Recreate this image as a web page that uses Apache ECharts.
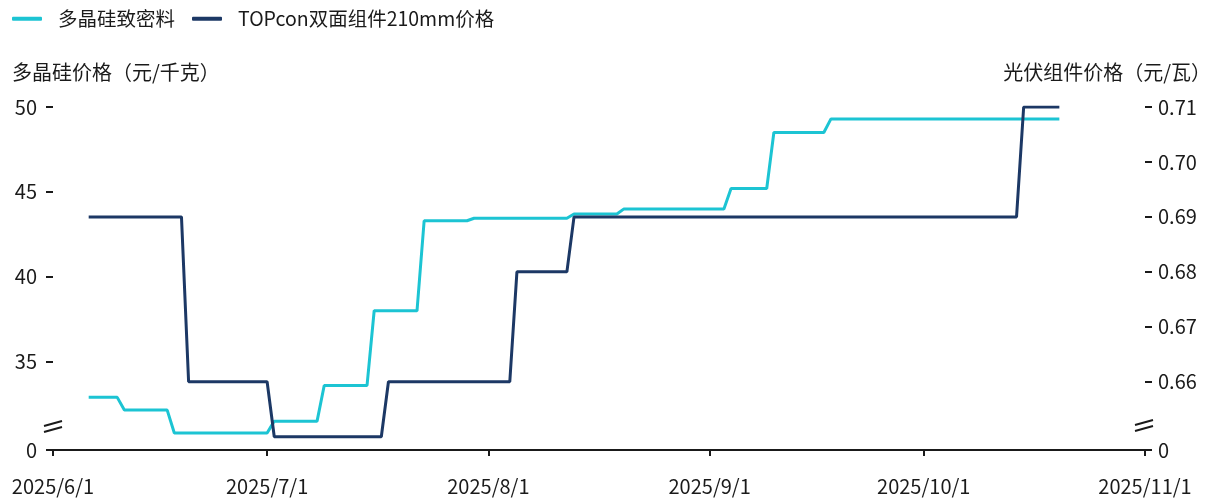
<!DOCTYPE html>
<html>
<head>
<meta charset="utf-8">
<script src="https://cdn.jsdelivr.net/npm/echarts@6/dist/echarts.min.js"></script>
<style>
  html, body { margin: 0; padding: 0; background: #fff; }
  #chart { width: 1211px; height: 500px; }
</style>
</head>
<body>
<div id="chart"></div>
<script>
// ---- data ----
const seriesNames = ['多晶硅致密料', 'TOPcon双面组件210mm价格'];
const polyDates = ['2025-06-06','2025-06-10','2025-06-11','2025-06-17','2025-06-18','2025-07-01','2025-07-02','2025-07-08','2025-07-09','2025-07-15','2025-07-16','2025-07-22','2025-07-23','2025-07-29','2025-07-30','2025-08-12','2025-08-13','2025-08-19','2025-08-20','2025-09-03','2025-09-04','2025-09-09','2025-09-10','2025-09-17','2025-09-18','2025-10-20'];
const polyValues = [32.9,32.9,32.15,32.15,30.8,30.8,31.5,31.5,33.6,33.6,38.0,38.0,43.3,43.3,43.45,43.45,43.7,43.7,44.0,44.0,45.2,45.2,48.5,48.5,49.3,49.3];
const moduleDates = ['2025-06-06','2025-06-19','2025-06-20','2025-07-01','2025-07-02','2025-07-17','2025-07-18','2025-08-04','2025-08-05','2025-08-12','2025-08-13','2025-10-14','2025-10-15','2025-10-20'];
const moduleValues = [0.69,0.69,0.66,0.66,0.65,0.65,0.66,0.66,0.68,0.68,0.69,0.69,0.71,0.71];
const xTickDates = ['2025-06-01','2025-07-01','2025-08-01','2025-09-01','2025-10-01','2025-11-01'];
const leftTicks = [35, 40, 45, 50];
const rightTicks = [0.66, 0.67, 0.68, 0.69, 0.70, 0.71];
const leftAxisName = '多晶硅价格（元/千克）';
const rightAxisName = '光伏组件价格（元/瓦）';

// ---- helpers ----
function toTime(s) { const p = s.split('-'); return +new Date(+p[0], +p[1] - 1, +p[2]); }
const FONT = '"Noto Sans CJK SC", "Noto Sans", sans-serif';
const FS = 20;
const TXT = '#1a1a1a';
const CYAN = '#1CC4D3';
const NAVY = '#1C3865';
const LEFT_MIN = 29.8, LEFT_MAX = 50;
const RIGHT_MIN = 0.64758, RIGHT_MAX = 0.71;
const xTicks = xTickDates.map(toTime);

const chart = echarts.init(document.getElementById('chart'), null, { renderer: 'canvas' });

const option = {
  animation: false,
  textStyle: { fontFamily: FONT, color: TXT },
  legend: {
    left: 12, top: 9, padding: 0,
    itemWidth: 30, itemHeight: 4, itemGap: 17,
    icon: 'roundRect',
    textStyle: { fontFamily: FONT, fontSize: 19.5, color: TXT, padding: [0, 0, 0, 11] },
    data: [
      { name: seriesNames[0], itemStyle: { color: CYAN } },
      { name: seriesNames[1], itemStyle: { color: NAVY } }
    ]
  },
  title: [
    { text: leftAxisName, left: 12, top: 62, padding: 0, textStyle: { fontFamily: FONT, fontSize: FS, fontWeight: 'normal', color: TXT } },
    { text: rightAxisName, right: 0, top: 62, padding: 0, textStyle: { fontFamily: FONT, fontSize: FS, fontWeight: 'normal', color: TXT } }
  ],
  grid: { left: 53, right: 66, top: 107, bottom: 50, containLabel: false },
  xAxis: {
    type: 'value',
    min: xTicks[0], max: xTicks[xTicks.length - 1],
    splitLine: { show: false },
    axisLine: { show: true, lineStyle: { color: TXT, width: 2 } },
    axisTick: { show: true, length: 6, lineStyle: { color: TXT, width: 2 }, customValues: xTicks },
    axisLabel: {
      customValues: xTicks, margin: 26, fontFamily: FONT, fontSize: FS, color: TXT,
      formatter: function (v) { const d = new Date(v); return d.getFullYear() + '/' + (d.getMonth() + 1) + '/' + d.getDate(); }
    }
  },
  yAxis: [
    {
      type: 'value', position: 'left', min: LEFT_MIN, max: LEFT_MAX,
      splitLine: { show: false },
      axisLine: { show: false },
      axisTick: { show: true, length: 7, lineStyle: { color: TXT, width: 2 }, customValues: [LEFT_MIN].concat(leftTicks) },
      axisLabel: {
        customValues: [LEFT_MIN].concat(leftTicks), margin: 16, fontFamily: FONT, fontSize: FS, color: TXT,
        formatter: function (v) { return v < 34 ? '0' : String(Math.round(v)); }
      }
    },
    {
      type: 'value', position: 'right', min: RIGHT_MIN, max: RIGHT_MAX,
      splitLine: { show: false },
      axisLine: { show: false },
      axisTick: { show: true, length: 7, lineStyle: { color: TXT, width: 2 }, customValues: [RIGHT_MIN].concat(rightTicks) },
      axisLabel: {
        customValues: [RIGHT_MIN].concat(rightTicks), margin: 13, fontFamily: FONT, fontSize: FS, color: TXT,
        formatter: function (v) { return v < 0.655 ? '0' : v.toFixed(2); }
      }
    }
  ],
  series: [
    {
      name: seriesNames[0], type: 'line', yAxisIndex: 0,
      showSymbol: false, symbol: 'none',
      lineStyle: { color: CYAN, width: 3 }, itemStyle: { color: CYAN },
      data: polyDates.map((d, i) => [toTime(d), polyValues[i]])
    },
    {
      name: seriesNames[1], type: 'line', yAxisIndex: 1,
      showSymbol: false, symbol: 'none',
      lineStyle: { color: NAVY, width: 3 }, itemStyle: { color: NAVY },
      data: moduleDates.map((d, i) => [toTime(d), moduleValues[i]])
    }
  ]
};
chart.setOption(option);

// axis-break marks "//" placed relative to the axes
const xl = chart.convertToPixel({ xAxisIndex: 0 }, xTicks[0]);
const xr = chart.convertToPixel({ xAxisIndex: 0 }, xTicks[xTicks.length - 1]);
const yb = chart.convertToPixel({ yAxisIndex: 0 }, LEFT_MIN);
function breakMark(cx, cy) {
  const s = { stroke: TXT, lineWidth: 2 };
  return [
    { type: 'line', shape: { x1: cx - 9, y1: cy + 1, x2: cx + 9, y2: cy - 4 }, style: s, silent: true },
    { type: 'line', shape: { x1: cx - 9, y1: cy + 7, x2: cx + 9, y2: cy + 2 }, style: s, silent: true }
  ];
}
chart.setOption({ graphic: breakMark(xl, yb - 25).concat(breakMark(xr - 1, yb - 26)) });
</script>
</body>
</html>
